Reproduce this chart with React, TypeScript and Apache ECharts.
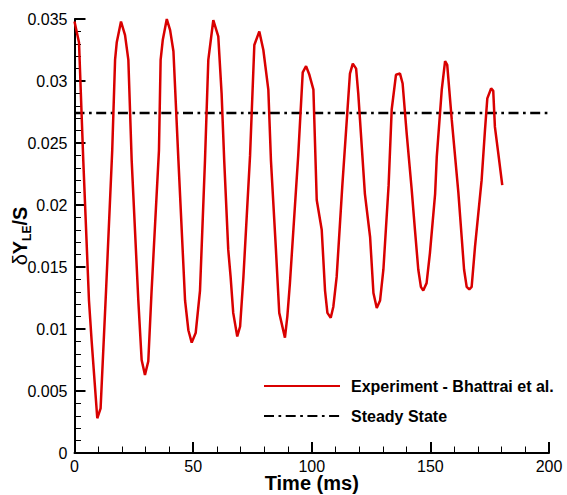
import React, { useEffect, useRef } from "react";
import * as echarts from "echarts";

const timeMs: number[] = [
  0, 1.9, 3.7, 6.1, 7.2, 9.6, 11.0, 13.3, 15.9, 17.1, 17.8, 19.6, 21.3, 22.7, 24.1,
  26.9, 28.3, 29.7, 31.1, 32.5, 35.6, 36.3, 37.2, 38.9, 40.3, 41.7, 43.8,
  46.6, 48.0, 49.4, 51.1, 52.9, 55.0, 56.4, 58.5, 60.6, 62.0, 63.1,
  64.8, 65.8, 66.9, 68.6, 69.8, 71.2, 74.0, 75.8, 77.9, 79.6, 81.7, 82.8,
  84.9, 86.3, 88.7, 89.7, 90.8, 94.3, 96.2, 97.6, 99.0, 100.7,
  102.1, 104.2, 105.6, 106.6, 108.0, 109.1, 110.5, 112.9, 116.1, 117.3, 118.7, 119.6,
  122.4, 124.6, 126.0, 127.4, 128.8, 130.2, 132.4, 133.7, 135.5, 137.2, 138.3, 140.0,
  142.1, 143.5, 144.9, 146.0, 147.0, 148.4, 149.8, 152.0, 152.7, 154.8, 156.2, 157.1, 159.0,
  161.8, 163.2, 164.2, 165.3, 166.4, 167.4, 168.8, 171.6, 173.0, 174.0, 175.6, 176.5,
  177.2, 178.6, 180.3,
];

const deflection: number[] = [
  0.0348, 0.0331, 0.0236, 0.0123, 0.0091, 0.0028, 0.0036, 0.0131, 0.0244, 0.0317, 0.0331, 0.0348, 0.0337, 0.0317, 0.0236,
  0.0123, 0.0075, 0.0063, 0.0074, 0.0131, 0.0244, 0.0317, 0.0333, 0.0350, 0.0341, 0.0324, 0.0236,
  0.0123, 0.0099, 0.0089, 0.0097, 0.0131, 0.0236, 0.0317, 0.0349, 0.0336, 0.0290, 0.0236,
  0.0164, 0.0142, 0.0113, 0.0094, 0.0102, 0.0142, 0.0240, 0.0329, 0.0340, 0.0325, 0.0293, 0.0236,
  0.0164, 0.0113, 0.0093, 0.0110, 0.0137, 0.0240, 0.0307, 0.0312, 0.0305, 0.0293,
  0.0204, 0.0180, 0.0131, 0.0113, 0.0109, 0.0118, 0.0142, 0.0216, 0.0306, 0.0314, 0.0310, 0.0290,
  0.0209, 0.0174, 0.0129, 0.0117, 0.0123, 0.0148, 0.0216, 0.0277, 0.0305, 0.0306, 0.0298, 0.0258,
  0.0213, 0.0180, 0.0148, 0.0134, 0.0131, 0.0137, 0.0161, 0.0209, 0.0239, 0.0293, 0.0316, 0.0313, 0.0269,
  0.0210, 0.0174, 0.0148, 0.0134, 0.0132, 0.0134, 0.0166, 0.0220, 0.0260, 0.0286, 0.0294, 0.0292,
  0.0263, 0.0242, 0.0216,
];

const steadyTimes: number[] = [0, 200];
const steadyValue = 0.02742;

const seriesNames: string[] = ["Experiment - Bhattrai et al.", "Steady State"];

const FONT = "Liberation Sans, Arial, Helvetica, sans-serif";

export default function App() {
  const ref = useRef<HTMLDivElement>(null);

  useEffect(() => {
    document.body.style.margin = "0";
    if (!ref.current) return;
    const chart = echarts.init(ref.current, undefined, { renderer: "svg" });
    const expData = timeMs.map((t, i) => [t, deflection[i]]);
    const steadyData = steadyTimes.map((t) => [t, steadyValue]);

    chart.setOption({
      animation: false,
      backgroundColor: "#ffffff",
      textStyle: { fontFamily: FONT },
      grid: {
        left: 74.5,
        right: 18,
        top: 19,
        bottom: 42,
        containLabel: false,
        outerBoundsMode: "none",
      },
      legend: {
        orient: "vertical",
        left: 263,
        top: 378,
        padding: 0,
        itemWidth: 76,
        itemHeight: 14,
        itemGap: 14,
        data: seriesNames,
        itemStyle: { opacity: 0 },
        textStyle: {
          fontFamily: FONT,
          fontSize: 16,
          fontWeight: "bold",
          color: "#000",
          padding: [0, 0, 0, 6],
        },
      },
      xAxis: {
        type: "value",
        min: 0,
        max: 200,
        interval: 50,
        name: "Time (ms)",
        nameLocation: "middle",
        nameGap: 20,
        nameMoveOverlap: false,
        nameTextStyle: {
          fontFamily: FONT,
          fontSize: 20,
          fontWeight: "bold",
          color: "#000",
          lineHeight: 20,
        },
        axisLine: { show: true, onZero: false, lineStyle: { color: "#000", width: 2 } },
        axisTick: { show: true, inside: true, length: 11, lineStyle: { color: "#000", width: 2 } },
        minorTick: { show: true, splitNumber: 5, length: 6.5, lineStyle: { color: "#000", width: 1 } },
        axisLabel: { fontFamily: FONT, fontSize: 16, lineHeight: 14, color: "#000", margin: 6 },
        splitLine: { show: false },
      },
      yAxis: {
        type: "value",
        min: 0,
        max: 0.035,
        interval: 0.005,
        name: "{d|δ}{y|Y}{s|LE}{y|/S}",
        nameLocation: "middle",
        nameRotate: 90,
        nameGap: 42,
        nameMoveOverlap: false,
        nameTextStyle: {
          rich: {
            d: { fontFamily: FONT, fontSize: 20, fontWeight: "normal", color: "#000", verticalAlign: "top", lineHeight: 23 },
            y: { fontFamily: FONT, fontSize: 20, fontWeight: "bold", color: "#000", verticalAlign: "top", lineHeight: 23 },
            s: { fontFamily: FONT, fontSize: 12, fontWeight: "bold", color: "#000", verticalAlign: "bottom", lineHeight: 23 },
          },
        },
        axisLine: { show: true, onZero: false, lineStyle: { color: "#000", width: 2 } },
        axisTick: { show: true, inside: true, length: 11, lineStyle: { color: "#000", width: 2 } },
        minorTick: { show: true, splitNumber: 5, length: 6.5, lineStyle: { color: "#000", width: 1 } },
        axisLabel: { fontFamily: FONT, fontSize: 16, color: "#000", margin: 7 },
        splitLine: { show: false },
      },
      series: [
        {
          name: seriesNames[0],
          type: "line",
          data: expData,
          symbol: "none",
          showSymbol: false,
          lineStyle: { color: "#d90000", width: 2.5 },
          itemStyle: { color: "#d90000" },
          z: 3,
        },
        {
          name: seriesNames[1],
          type: "line",
          data: steadyData,
          symbol: "none",
          showSymbol: false,
          lineStyle: { color: "#000", width: 2.5, type: [10, 4.5, 2.7, 4.5] },
          itemStyle: { color: "#000" },
          z: 2,
        },
      ],
    });

    return () => chart.dispose();
  }, []);

  return <div ref={ref} style={{ width: 567, height: 495 }} />;
}
